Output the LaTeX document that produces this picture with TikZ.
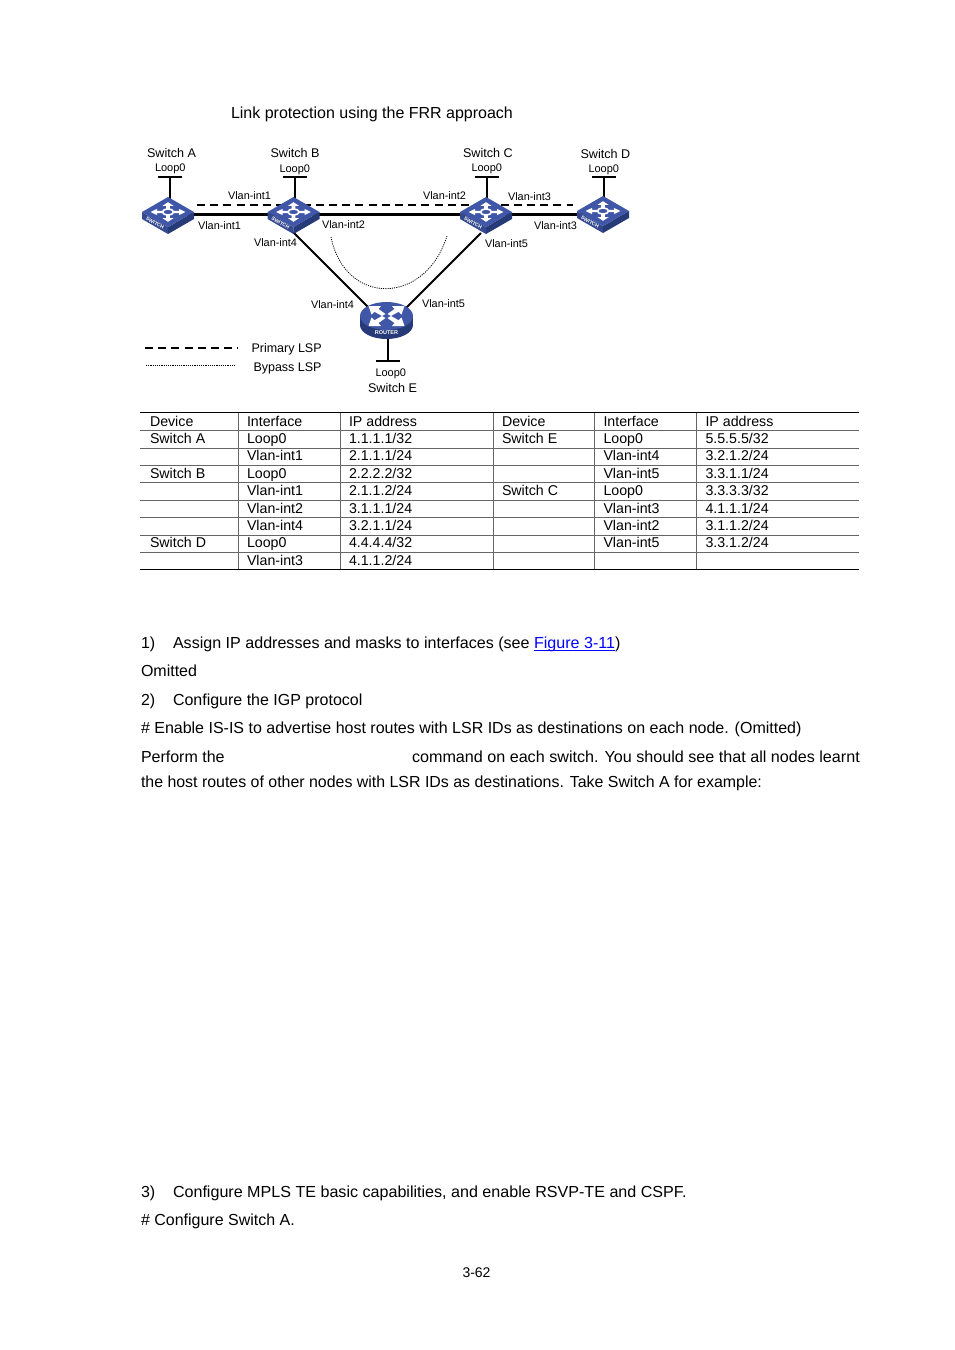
\documentclass[tikz,border=0pt]{standalone}
\usepackage{fontspec}
\setmainfont{Liberation Sans}
\definecolor{swtop}{HTML}{3F57A6}
\definecolor{swleft}{HTML}{34498F}
\definecolor{swright}{HTML}{263A78}
\definecolor{rule}{HTML}{666666}
\definecolor{linkblue}{HTML}{0000FF}
\newcommand{\fs}[1]{\fontsize{#1}{#1}\selectfont}
\newcommand{\txt}[5][]{\node[lbl,#1] (#2) at (#3) {\fs{#5}#4};}
\tikzset{
 x=1pt,y=-1pt,
 lbl/.style={anchor=base west,inner sep=0pt,outer sep=0pt,text=black},
 link/.style={line width=2.1pt,black},
 primary/.style={line width=1.9pt,black,dash pattern=on 8pt off 5.2pt},
 bypass/.style={line width=0.8pt,black,dash pattern=on 1.1pt off 1.1pt},
 hline/.style={line width=0.9pt,rule},
 hedge/.style={line width=1pt,black},
 vline/.style={line width=0.9pt,rule},
 switchpic/.pic={
   \fill[swleft] (-26,0)--(0,15)--(0,22)--(-26,7)--cycle;
   \fill[swright] (26,0)--(0,15)--(0,22)--(26,7)--cycle;
   \fill[swtop] (-26,0)--(0,-15)--(26,0)--(0,15)--cycle;
   \begin{scope}[yscale=0.56]
    \foreach \a in {0,90,180,270}{
      \fill[white,rotate=\a] (5,-1.9)--(11,-1.9)--(11,-5.5)--(17.5,0)--(11,5.5)--(11,1.9)--(5,1.9)--cycle;
    }
    \draw[white,line width=1.6pt,fill=swtop] (0,0) circle[radius=5.5];
   \end{scope}
   \node[inner sep=0pt,text=white,rotate=-30] at (-13,11) {\fontsize{5}{5}\selectfont\bfseries SWITCH};
 },
 routerpic/.pic={
   \fill[swright] (0,9) ellipse[x radius=26.5,y radius=14];
   \fill[swright] (-26.5,0) rectangle (26.5,9);
   \fill[swtop] (0,0) ellipse[x radius=26.5,y radius=14];
   % four bent arrows
   \fill[white] (-18,-10)--(-5.5,-10)--(-8,-7)--(-1,-2)--(-4.5,0)--(-12,-4.2)--(-15,-1.5)--cycle;
   \fill[white] (18,-10)--(5.5,-10)--(8,-7)--(1,-2)--(4.5,0)--(12,-4.2)--(15,-1.5)--cycle;
   \fill[white] (-18,10)--(-5.5,10)--(-8,7)--(-1,2)--(-4.5,0)--(-12,4.2)--(-15,1.5)--cycle;
   \fill[white] (18,10)--(5.5,10)--(8,7)--(1,2)--(4.5,0)--(12,4.2)--(15,1.5)--cycle;
   \node[inner sep=0pt,text=white] at (0,17) {\fontsize{5.5}{5.5}\selectfont\bfseries ROUTER};
 }
}
\begin{document}
\begin{tikzpicture}
\useasboundingbox (0,0) rectangle (954,1350);
\fill[white] (0,0) rectangle (954,1350);
% device anchors
\node[coordinate] (swA) at (168,214.5) {};
\node[coordinate] (swB) at (293.5,214.5) {};
\node[coordinate] (swC) at (486,214.5) {};
\node[coordinate] (swD) at (603,214.5) {};
\node[coordinate] (swE) at (386.5,320) {};
\node[coordinate] (portB) at (293,232) {};
\node[coordinate] (portC) at (481,233) {};
\node[coordinate] (portEl) at (374,313) {};
\node[coordinate] (portEr) at (401,313) {};
\node[coordinate] (loopA) at (170,177) {};
\node[coordinate] (loopB) at (295,177) {};
\node[coordinate] (loopC) at (487,177) {};
\node[coordinate] (loopD) at (604,177) {};
\node[coordinate] (loopE) at (388,361) {};
\node[coordinate] (primS) at (197,205) {};
\node[coordinate] (primE) at (573,205) {};
\node[coordinate] (bypS) at (331,237) {};
\node[coordinate] (bypE) at (447,236) {};
\node[coordinate] (legPa) at (145,348) {};
\node[coordinate] (legPb) at (238,348) {};
\node[coordinate] (legBa) at (146,365.5) {};
\node[coordinate] (legBb) at (235,365.5) {};
% links
\draw[primary] (primS) -- (primE);
\draw[link] (swA) -- (swB);
\draw[link] (swB) -- (swC);
\draw[link] (swC) -- (swD);
\draw[link] (portB) -- (portEl);
\draw[link] (portC) -- (portEr);
\foreach \n in {A,B,C,D}{
  \draw[link] (loop\n) -- (loop\n |- sw\n);
  \draw[link] ([xshift=-12pt]loop\n.center) -- ([xshift=12pt]loop\n.center);
}
\draw[link] (loopE) -- (loopE |- swE);
\draw[link] ([xshift=-12pt]loopE.center) -- ([xshift=12pt]loopE.center);
\draw[bypass] (bypS) .. controls (345,306) and (425,306) .. (bypE);
\draw[primary] (legPa) -- (legPb);
\draw[bypass] (legBa) -- (legBb);
% devices
\pic at (168,212) {switchpic};
\pic at (293.5,212) {switchpic};
\pic at (486,212) {switchpic};
\pic at (603,211) {switchpic};
\pic at (386.5,316) {routerpic};
% diagram text
\txt{ttl}{231,118}{Link protection using the FRR approach}{16}
\txt{nA}{147,157}{Switch A}{12.6}
\txt{nB}{270.5,157}{Switch B}{12.6}
\txt{nC}{463,157}{Switch C}{12.6}
\txt{nD}{580.5,158}{Switch D}{12.6}
\txt{nE}{368,392}{Switch E}{12.6}
\txt{lA}{155,171}{Loop0}{11}
\txt{lB}{279.5,172}{Loop0}{11}
\txt{lC}{471.5,171}{Loop0}{11}
\txt{lD}{588.5,172}{Loop0}{11}
\txt{lE}{375.5,376}{Loop0}{11}
\txt{v1}{228,199.5}{Vlan-int1}{10.9}
\txt{v2}{198,229}{Vlan-int1}{10.9}
\txt{v3}{254,246}{Vlan-int4}{10.9}
\txt{v4}{322,228}{Vlan-int2}{10.9}
\txt{v5}{423,199}{Vlan-int2}{10.9}
\txt{v6}{508,200}{Vlan-int3}{10.9}
\txt{v7}{534,229}{Vlan-int3}{10.9}
\txt{v8}{485,247}{Vlan-int5}{10.9}
\txt{v9}{311,308}{Vlan-int4}{10.9}
\txt{v10}{422,307}{Vlan-int5}{10.9}
\txt{lp}{251.5,352}{Primary LSP}{12.5}
\txt{lb}{253.5,371}{Bypass LSP}{12.5}
% table rules
\foreach \y in {430.5,448,465.5,482.5,500,517.5,535,552.5}{\draw[hline] (140,\y) -- (859,\y);}
\foreach \x in {238.5,340.5,493.5,594.5,696.5}{\draw[vline] (\x,412.5) -- (\x,569.5);}
\draw[hedge] (140,412.5) -- (859,412.5);
\draw[hedge] (140,569.5) -- (859,569.5);
% table text
\foreach \r/\a/\b/\c/\d/\e/\f [count=\i from 0] in {
 Device/Interface/IP address/Device/Interface/IP address,
 Switch A/Loop0/1.1.1.1\slash 32/Switch E/Loop0/5.5.5.5\slash 32,
 /Vlan-int1/2.1.1.1\slash 24//Vlan-int4/3.2.1.2\slash 24,
 Switch B/Loop0/2.2.2.2\slash 32//Vlan-int5/3.3.1.1\slash 24,
 /Vlan-int1/2.1.1.2\slash 24/Switch C/Loop0/3.3.3.3\slash 32,
 /Vlan-int2/3.1.1.1\slash 24//Vlan-int3/4.1.1.1\slash 24,
 /Vlan-int4/3.2.1.1\slash 24//Vlan-int2/3.1.1.2\slash 24,
 Switch D/Loop0/4.4.4.4\slash 32//Vlan-int5/3.3.1.2\slash 24,
 /Vlan-int3/4.1.1.2\slash 24///}{
  \pgfmathsetmacro{\yy}{426+17.42*\i}
  \node[lbl] (ta\i) at (150,\yy) {\fs{14.2}\r};
  \node[lbl] (tb\i) at (247,\yy) {\fs{14.2}\a};
  \node[lbl] (tc\i) at (349,\yy) {\fs{14.2}\b};
  \node[lbl] (td\i) at (502,\yy) {\fs{14.2}\c};
  \node[lbl] (te\i) at (603.5,\yy) {\fs{14.2}\d};
  \node[lbl] (tf\i) at (705.5,\yy) {\fs{14.2}\e};
}
% body text
\txt{b1a}{141,648}{1)}{16}
\txt{b1b}{173,648}{\scalebox{1.005}[1]{Assign IP addresses and masks to interfaces (see \textcolor{linkblue}{Figure 3-11})}}{16}
\draw[linkblue,line width=0.8pt] (534,650.5) -- (615,650.5);
\txt{b2}{141,676}{Omitted}{16}
\txt{b3a}{141,705}{2)}{16}
\txt{b3b}{173,705}{Configure the IGP protocol}{16}
\txt{b4}{141,733}{\# Enable IS-IS to advertise host routes with LSR IDs as destinations on each node. (Omitted)}{16}
\txt{b5a}{141,762}{Perform the}{16}
\txt{b5b}{412,762}{\scalebox{1.009}[1]{command on each switch. You should see that all nodes learnt}}{16}
\txt{b6}{141,787}{\scalebox{0.995}[1]{the host routes of other nodes with LSR IDs as destinations. Take Switch A for example:}}{16}
\txt{b7a}{141,1197}{3)}{16}
\txt{b7b}{173,1197}{\scalebox{1.006}[1]{Configure MPLS TE basic capabilities, and enable RSVP-TE and CSPF.}}{16}
\txt{b8}{141,1225}{\# Configure Switch A.}{16}
\txt{pg}{462.5,1277}{3-62}{14}
\end{tikzpicture}
\end{document}
